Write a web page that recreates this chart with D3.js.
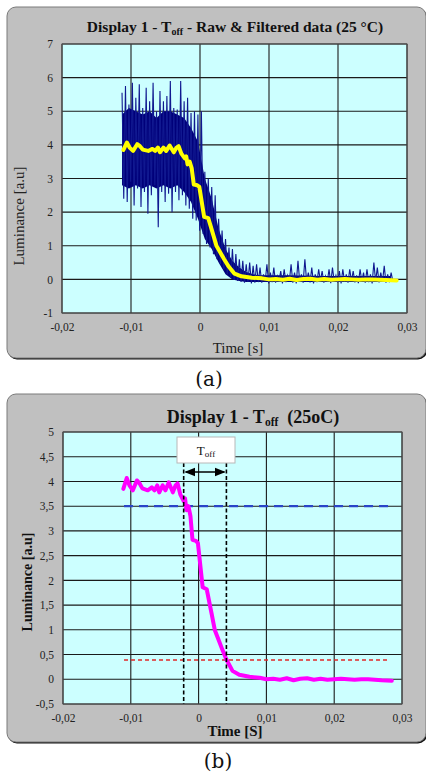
<!DOCTYPE html>
<html>
<head>
<meta charset="utf-8">
<script src="https://cdn.jsdelivr.net/npm/d3@7"></script>
<style>
  body { margin: 0; background: #fff; }
  svg { display: block; }
</style>
</head>
<body>
<svg id="chart" width="426" height="773"></svg>
<script>
// Filtered luminance trace (time in s, luminance in a.u.), shown in both panels
const filtT = [-0.0111,-0.0106,-0.0102,-0.0097,-0.0091,-0.0087,-0.0083,-0.0075,-0.0069,-0.0065,
  -0.0061,-0.0058,-0.0053,-0.0049,-0.0044,-0.0038,-0.0034,-0.0031,-0.0027,-0.0022,
  -0.0020,-0.0018,-0.0015,-0.0012,-0.0009,-0.0004,-0.0001,0.0006,0.0012,0.0019,
  0.0024,0.0028,0.0035,0.0041,0.0050,0.0060,0.0075,0.0090,0.0100,0.0110,
  0.0120,0.0130,0.0140,0.0150,0.0160,0.0170,0.0180,0.0190,0.0200,0.0210,
  0.0220,0.0230,0.0240,0.0250,0.0260,0.0270,0.0285];
const filtV = [3.85,4.07,3.92,3.82,4.02,3.96,3.86,3.82,3.88,3.82,
  3.92,3.78,3.92,3.82,3.98,3.78,3.92,3.96,3.74,3.60,
  3.66,3.42,3.50,3.30,2.82,2.80,2.75,1.86,1.82,1.34,
  0.99,0.85,0.60,0.40,0.17,0.09,0.05,0.03,0.00,0.01,
  -0.01,0.02,-0.02,0.01,0.02,-0.01,0.01,-0.01,0.00,0.01,
  0.00,-0.01,0.00,0.00,-0.01,-0.02,-0.03];

// Raw signal, dense core of the noise band
const coreT  = [-0.0113,-0.0103,-0.0093,-0.0083,-0.0073,-0.0063,-0.0053,-0.0043,-0.0033,-0.0023,
  -0.0013,-0.0003,0.0007,0.0017,0.0027,0.0037,0.0047,0.0057,0.0067,0.0077,
  0.0087,0.0127,0.0177,0.0227,0.0277];
const coreHi = [4.90,5.10,5.00,4.90,5.00,4.80,5.00,5.00,4.90,4.80,
  4.50,4.10,3.00,2.40,1.50,0.90,0.55,0.35,0.22,0.15,
  0.12,0.12,0.10,0.10,0.10];
const coreLo = [2.80,2.70,2.80,2.70,2.80,2.70,2.80,2.70,2.80,2.60,
  2.30,1.80,1.20,0.90,0.50,0.15,0.00,-0.05,-0.08,-0.08,
  -0.08,-0.08,-0.08,-0.08,-0.08];

// Raw signal: per-sample upper and lower excursions (spikes)
const rawT = [-0.0113,-0.0108,-0.0103,-0.0098,-0.0093,-0.0088,-0.0083,-0.0078,-0.0073,-0.0068,
  -0.0063,-0.0058,-0.0053,-0.0048,-0.0043,-0.0038,-0.0033,-0.0028,-0.0023,-0.0018,
  -0.0013,-0.0008,-0.0003,0.0002,0.0007,0.0012,0.0017,0.0022,0.0027,0.0032,
  0.0037,0.0042,0.0047,0.0052,0.0057,0.0062,0.0067,0.0072,0.0077,0.0082,
  0.0087,0.0092,0.0097,0.0102,0.0107,0.0112,0.0117,0.0122,0.0127,0.0132,
  0.0137,0.0142,0.0147,0.0152,0.0157,0.0162,0.0167,0.0172,0.0177,0.0182,
  0.0187,0.0192,0.0197,0.0202,0.0207,0.0212,0.0217,0.0222,0.0227,0.0232,
  0.0237,0.0242,0.0247,0.0252,0.0257,0.0262,0.0267,0.0272,0.0277];
const rawHi = [5.55,5.75,5.20,5.85,5.40,5.80,5.10,5.70,5.30,5.85,
  5.00,5.60,5.30,5.45,5.90,5.10,5.05,5.90,5.30,5.40,
  4.95,5.00,4.90,5.00,3.20,3.00,2.75,2.50,1.80,1.45,
  1.20,0.95,0.90,0.75,0.60,0.55,0.45,0.50,0.40,0.45,
  0.35,0.15,0.45,0.20,0.35,0.10,0.25,0.30,0.12,0.45,
  0.20,0.55,0.15,0.60,0.20,0.35,0.15,0.30,0.25,0.10,
  0.30,0.35,0.12,0.25,0.30,0.15,0.30,0.25,0.12,0.30,
  0.20,0.30,0.15,0.50,0.35,0.20,0.40,0.15,0.20];
const rawLo = [2.40,2.30,2.90,2.20,2.70,2.15,2.60,1.95,2.50,2.80,
  1.55,2.60,2.30,2.55,2.00,2.60,2.35,2.50,2.20,2.10,
  1.80,1.75,1.45,1.35,1.05,0.95,0.75,0.60,0.45,0.30,
  0.15,0.05,-0.02,-0.05,-0.08,-0.10,-0.08,-0.12,-0.10,-0.08,
  -0.10,-0.06,-0.12,-0.08,-0.10,-0.05,-0.12,-0.08,-0.06,-0.10,
  -0.12,-0.07,-0.10,-0.06,-0.09,-0.12,-0.08,-0.05,-0.10,-0.07,
  -0.11,-0.06,-0.09,-0.12,-0.07,-0.10,-0.05,-0.09,-0.11,-0.06,
  -0.10,-0.08,-0.12,-0.06,-0.09,-0.07,-0.10,-0.08,-0.06];

// Axis ticks
const xTicks = [-0.02, -0.01, 0, 0.01, 0.02, 0.03];
const yTicksA = [-1, 0, 1, 2, 3, 4, 5, 6, 7];
const yTicksB = [-0.5, 0, 0.5, 1, 1.5, 2, 2.5, 3, 3.5, 4, 4.5, 5];

// T_off markers: 90 % / 10 % levels and the crossing times
const levelHigh = 3.5, levelLow = 0.39;
const toffStart = -0.0022, toffEnd = 0.0041;
const levelSpan = [-0.011, 0.028];

const svg = d3.select("#chart");
const serif = "'Liberation Serif', 'Times New Roman', serif";
const fmt = d => String(d).replace(".", ",");

function frame(x, y, w, h) {
  svg.append("rect").attr("x", x + 1).attr("y", y + 1.5).attr("width", w).attr("height", h)
    .attr("rx", 9).attr("fill", "#111");
  svg.append("rect").attr("x", x).attr("y", y).attr("width", w).attr("height", h)
    .attr("rx", 9).attr("fill", "#c0c0c0").attr("stroke", "#7a7a7a").attr("stroke-width", 1);
}

function panel(p) {
  const x = d3.scaleLinear().domain([-0.02, 0.03]).range([p.l, p.r]);
  const y = d3.scaleLinear().domain(p.yDomain).range([p.b, p.t]);
  svg.append("rect").attr("x", p.l).attr("y", p.t).attr("width", p.r - p.l).attr("height", p.b - p.t)
    .attr("fill", "#ccffff");
  const g = svg.append("g");
  g.selectAll("line.h").data(p.yTicks).join("line")
    .attr("x1", p.l).attr("x2", p.r).attr("y1", d => y(d)).attr("y2", d => y(d))
    .attr("stroke", "#1a1a1a").attr("stroke-width", 1.1);
  g.selectAll("line.v").data(xTicks).join("line")
    .attr("x1", d => x(d)).attr("x2", d => x(d)).attr("y1", p.t).attr("y2", p.b)
    .attr("stroke", "#1a1a1a").attr("stroke-width", 1.1);
  svg.append("rect").attr("x", p.l).attr("y", p.t).attr("width", p.r - p.l).attr("height", p.b - p.t)
    .attr("fill", "none").attr("stroke", "#555").attr("stroke-width", 1);

  // tick labels via d3 axes (domain/tick lines hidden)
  const ax = svg.append("g").attr("transform", `translate(0,${p.b})`)
    .call(d3.axisBottom(x).tickValues(xTicks).tickFormat(fmt).tickSize(0).tickPadding(p.xPad));
  const ay = svg.append("g").attr("transform", `translate(${p.l},0)`)
    .call(d3.axisLeft(y).tickValues(p.yTicks).tickFormat(fmt).tickSize(0).tickPadding(p.yPad));
  [ax, ay].forEach(a => {
    a.select(".domain").remove();
    a.attr("font-family", serif);
    a.selectAll("text").attr("font-family", serif).attr("font-size", 11.5).attr("fill", "#222");
  });
  return { x, y };
}

// ---------- Panel (a): raw & filtered ----------
frame(7, 7, 419, 351);
const A = panel({ l: 62, r: 407, t: 44, b: 313, yDomain: [-1, 7], yTicks: yTicksA, xPad: 10, yPad: 9 });

// dense core of the raw noise
const core = coreT.map((t, i) => [t, coreLo[i], coreHi[i]]);
svg.append("path").datum(core)
  .attr("d", d3.area().x(d => A.x(d[0])).y0(d => A.y(d[1])).y1(d => A.y(d[2])))
  .attr("fill", "#00007a");

// raw spikes drawn as a zigzag between each sample's high and low excursion
const half = 0.00025;
const rawPts = [];
rawT.forEach((t, i) => { rawPts.push([t, rawHi[i]]); rawPts.push([t + half, rawLo[i]]); });
svg.append("path").datum(rawPts)
  .attr("d", d3.line().x(d => A.x(d[0])).y(d => A.y(d[1])))
  .attr("fill", "none").attr("stroke", "#101890").attr("stroke-width", 1.1).attr("stroke-linejoin", "miter");

const filt = filtT.map((t, i) => [t, filtV[i]]);
svg.append("path").datum(filt)
  .attr("d", d3.line().x(d => A.x(d[0])).y(d => A.y(d[1])))
  .attr("fill", "none").attr("stroke", "#ffff00").attr("stroke-width", 4)
  .attr("stroke-linejoin", "round").attr("stroke-linecap", "round");

const tA = svg.append("text").attr("x", 235).attr("y", 32).attr("text-anchor", "middle")
  .attr("font-family", serif).attr("font-size", 15.5).attr("font-weight", "bold").attr("fill", "#111");
tA.append("tspan").text("Display 1 - T");
tA.append("tspan").attr("font-size", 10).attr("dy", 3).text("off");
tA.append("tspan").attr("dy", -3).text(" - Raw & Filtered data (25 °C)");

svg.append("text").attr("x", 238).attr("y", 353).attr("text-anchor", "middle")
  .attr("font-family", serif).attr("font-size", 15).attr("fill", "#222").text("Time [s]");
svg.append("text").attr("transform", "translate(24,216) rotate(-90)").attr("text-anchor", "middle")
  .attr("font-family", serif).attr("font-size", 15).attr("fill", "#222").text("Luminance [a.u]");

svg.append("text").attr("x", 209).attr("y", 386).attr("text-anchor", "middle")
  .attr("font-family", "'DejaVu Serif', serif").attr("font-size", 20).attr("fill", "#111").text("(a)");

// ---------- Panel (b): filtered with T_off ----------
frame(7, 394, 419, 348);
const B = panel({ l: 63, r: 402, t: 432, b: 704, yDomain: [-0.5, 5], yTicks: yTicksB, xPad: 10, yPad: 9 });

svg.append("line").attr("x1", B.x(levelSpan[0])).attr("x2", B.x(levelSpan[1]))
  .attr("y1", B.y(levelHigh)).attr("y2", B.y(levelHigh))
  .attr("stroke", "#2a44c8").attr("stroke-width", 2.2).attr("stroke-dasharray", "9,6");
svg.append("line").attr("x1", B.x(levelSpan[0])).attr("x2", B.x(levelSpan[1]))
  .attr("y1", B.y(levelLow)).attr("y2", B.y(levelLow))
  .attr("stroke", "#e02828").attr("stroke-width", 1.5).attr("stroke-dasharray", "4,3");

svg.append("path").datum(filt)
  .attr("d", d3.line().x(d => B.x(d[0])).y(d => B.y(d[1])))
  .attr("fill", "none").attr("stroke", "#ff00ff").attr("stroke-width", 4)
  .attr("stroke-linejoin", "round").attr("stroke-linecap", "round");

[toffStart, toffEnd].forEach(t => {
  svg.append("line").attr("x1", B.x(t)).attr("x2", B.x(t)).attr("y1", 463).attr("y2", 704)
    .attr("stroke", "#000").attr("stroke-width", 1.6).attr("stroke-dasharray", "4,2.5");
});

// double-headed arrow between the two crossings
const defs = svg.append("defs");
["arrEnd", "arrStart"].forEach((id, k) => {
  defs.append("marker").attr("id", id).attr("viewBox", "0 0 10 10").attr("refX", 9).attr("refY", 5)
    .attr("markerWidth", 7).attr("markerHeight", 7).attr("orient", k === 0 ? "auto" : "auto-start-reverse")
    .append("path").attr("d", "M0,1 L10,5 L0,9 Z").attr("fill", "#000");
});
svg.append("line").attr("x1", B.x(toffStart) + 2).attr("x2", B.x(toffEnd) - 2)
  .attr("y1", 472).attr("y2", 472).attr("stroke", "#000").attr("stroke-width", 1.5)
  .attr("marker-end", "url(#arrEnd)").attr("marker-start", "url(#arrStart)");

svg.append("rect").attr("x", 177).attr("y", 437).attr("width", 58).attr("height", 26)
  .attr("fill", "#fff").attr("stroke", "#b8b8b8").attr("stroke-width", 1);
const tb = svg.append("text").attr("x", 206).attr("y", 455).attr("text-anchor", "middle")
  .attr("font-family", serif).attr("font-size", 13).attr("fill", "#111");
tb.append("tspan").text("T");
tb.append("tspan").attr("font-size", 9).attr("dy", 2).text("off");

const tB = svg.append("text").attr("x", 253).attr("y", 423).attr("text-anchor", "middle")
  .attr("font-family", serif).attr("font-size", 18).attr("font-weight", "bold").attr("fill", "#111")
  .attr("xml:space", "preserve");
tB.append("tspan").text("Display 1 - T");
tB.append("tspan").attr("font-size", 11.5).attr("dy", 3).text("off");
tB.append("tspan").attr("dy", -3).text("  (25oC)");

svg.append("text").attr("x", 235).attr("y", 736).attr("text-anchor", "middle")
  .attr("font-family", serif).attr("font-size", 15).attr("font-weight", "bold").attr("fill", "#111").text("Time [S]");
svg.append("text").attr("transform", "translate(32,582) rotate(-90)").attr("text-anchor", "middle")
  .attr("font-family", serif).attr("font-size", 14).attr("font-weight", "bold").attr("fill", "#111").text("Luminance [a.u]");

svg.append("text").attr("x", 218).attr("y", 768).attr("text-anchor", "middle")
  .attr("font-family", "'DejaVu Serif', serif").attr("font-size", 20).attr("fill", "#111").text("(b)");
</script>
</body>
</html>
